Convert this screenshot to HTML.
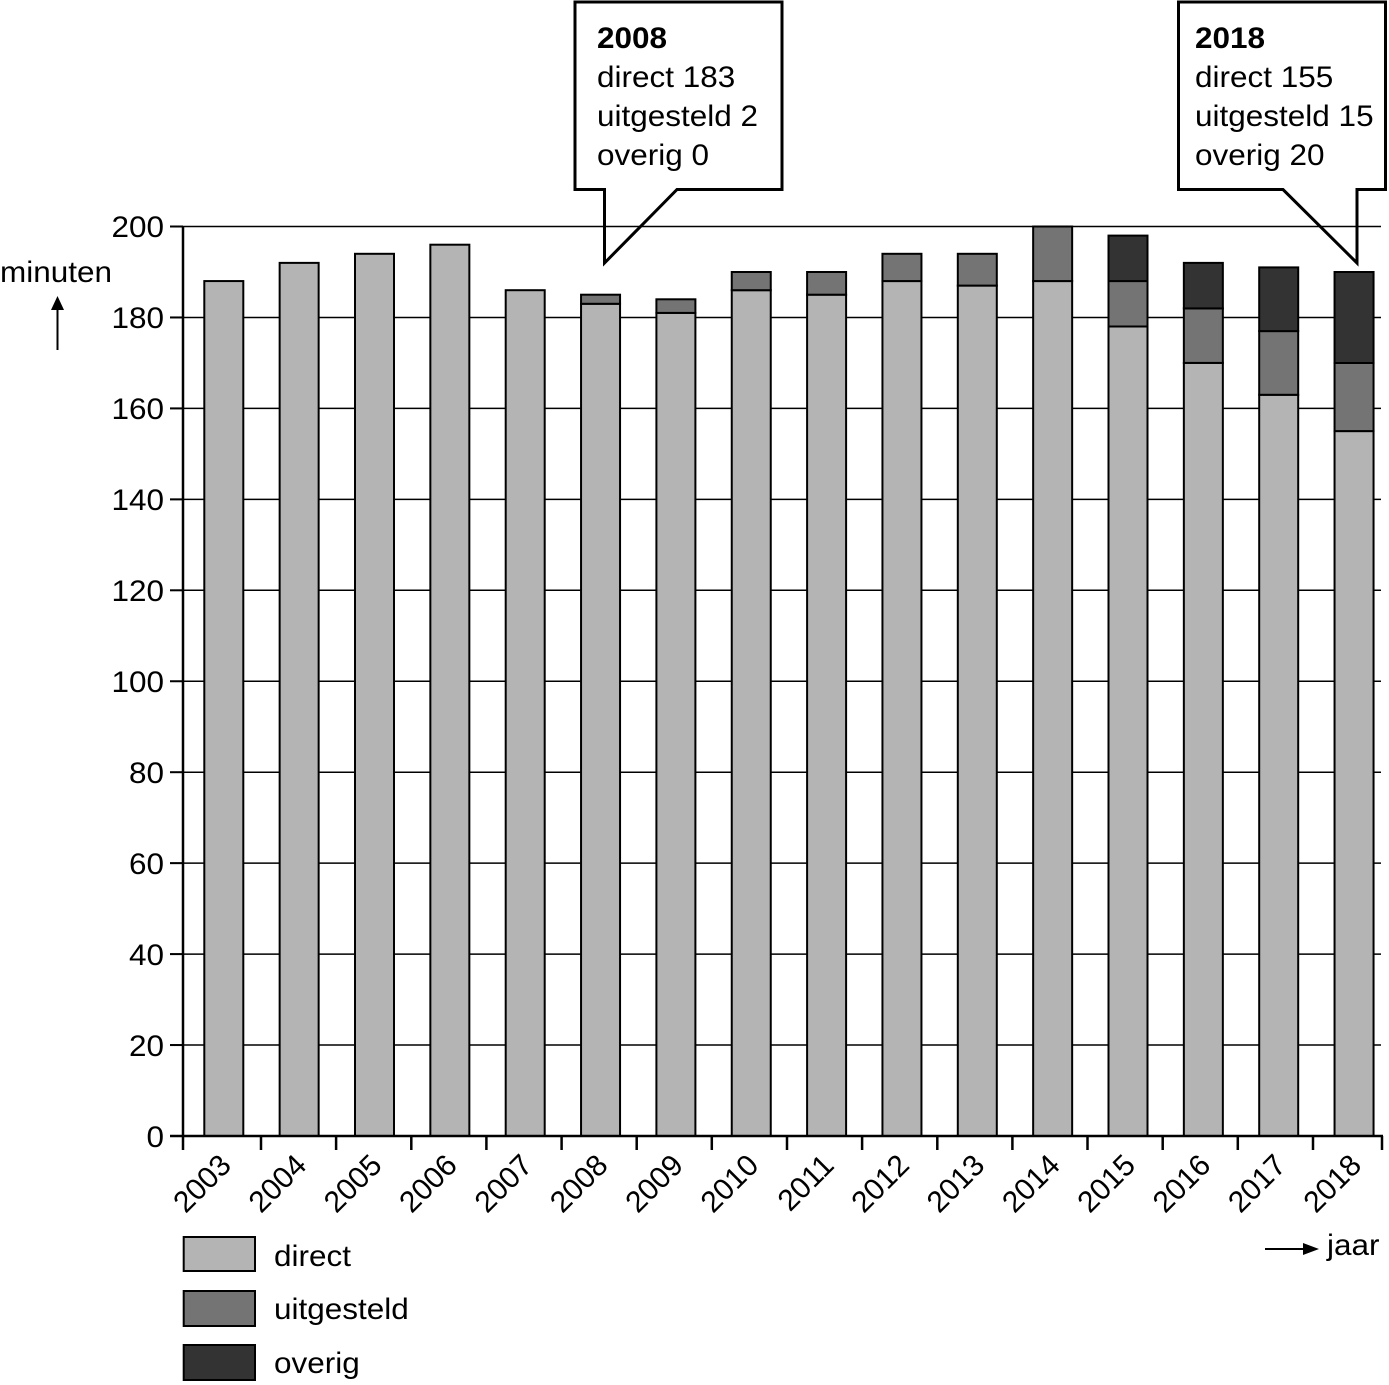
<!DOCTYPE html>
<html>
<head>
<meta charset="utf-8">
<style>
  html, body { margin: 0; padding: 0; background: #ffffff; }
  svg { display: block; }
  text { font-family: "Liberation Sans", Arial, sans-serif; font-size: 30px; fill: #000; }
</style>
</head>
<body>
<svg width="1389" height="1385" viewBox="0 0 1389 1385" xmlns="http://www.w3.org/2000/svg">
  <rect x="0" y="0" width="1389" height="1385" fill="#ffffff"/>

  <!-- gridlines -->
  <g stroke="#000" stroke-width="1.5">
    <line x1="170" y1="226.5" x2="1381" y2="226.5"/>
    <line x1="170" y1="317.45" x2="1381" y2="317.45"/>
    <line x1="170" y1="408.4" x2="1381" y2="408.4"/>
    <line x1="170" y1="499.35" x2="1381" y2="499.35"/>
    <line x1="170" y1="590.3" x2="1381" y2="590.3"/>
    <line x1="170" y1="681.25" x2="1381" y2="681.25"/>
    <line x1="170" y1="772.2" x2="1381" y2="772.2"/>
    <line x1="170" y1="863.15" x2="1381" y2="863.15"/>
    <line x1="170" y1="954.1" x2="1381" y2="954.1"/>
    <line x1="170" y1="1045.05" x2="1381" y2="1045.05"/>
  </g>

  <!-- bars -->
  <g stroke="#000" stroke-width="2">
    <!-- 2003 -->
    <rect x="204.3" y="281.07" width="39" height="854.93" fill="#b4b4b4"/>
    <!-- 2004 -->
    <rect x="279.65" y="262.88" width="39" height="873.12" fill="#b4b4b4"/>
    <!-- 2005 -->
    <rect x="355" y="253.8" width="39" height="882.2" fill="#b4b4b4"/>
    <!-- 2006 -->
    <rect x="430.35" y="244.7" width="39" height="891.3" fill="#b4b4b4"/>
    <!-- 2007 -->
    <rect x="505.7" y="290.2" width="39" height="845.8" fill="#b4b4b4"/>
    <!-- 2008 -->
    <rect x="581.05" y="303.8" width="39" height="832.2" fill="#b4b4b4"/>
    <rect x="581.05" y="294.7" width="39" height="9.1" fill="#747474"/>
    <!-- 2009 -->
    <rect x="656.4" y="312.9" width="39" height="823.1" fill="#b4b4b4"/>
    <rect x="656.4" y="299.3" width="39" height="13.6" fill="#747474"/>
    <!-- 2010 -->
    <rect x="731.75" y="290.2" width="39" height="845.8" fill="#b4b4b4"/>
    <rect x="731.75" y="272" width="39" height="18.2" fill="#747474"/>
    <!-- 2011 -->
    <rect x="807.1" y="294.7" width="39" height="841.3" fill="#b4b4b4"/>
    <rect x="807.1" y="272" width="39" height="22.7" fill="#747474"/>
    <!-- 2012 -->
    <rect x="882.45" y="281.07" width="39" height="854.93" fill="#b4b4b4"/>
    <rect x="882.45" y="253.8" width="39" height="27.27" fill="#747474"/>
    <!-- 2013 -->
    <rect x="957.8" y="285.6" width="39" height="850.4" fill="#b4b4b4"/>
    <rect x="957.8" y="253.8" width="39" height="31.8" fill="#747474"/>
    <!-- 2014 -->
    <rect x="1033.15" y="281.07" width="39" height="854.93" fill="#b4b4b4"/>
    <rect x="1033.15" y="226.5" width="39" height="54.57" fill="#747474"/>
    <!-- 2015 -->
    <rect x="1108.5" y="326.5" width="39" height="809.5" fill="#b4b4b4"/>
    <rect x="1108.5" y="281.07" width="39" height="45.43" fill="#747474"/>
    <rect x="1108.5" y="235.6" width="39" height="45.47" fill="#333333"/>
    <!-- 2016 -->
    <rect x="1183.85" y="362.9" width="39" height="773.1" fill="#b4b4b4"/>
    <rect x="1183.85" y="308.4" width="39" height="54.5" fill="#747474"/>
    <rect x="1183.85" y="262.88" width="39" height="45.52" fill="#333333"/>
    <!-- 2017 -->
    <rect x="1259.2" y="394.8" width="39" height="741.2" fill="#b4b4b4"/>
    <rect x="1259.2" y="331.1" width="39" height="63.7" fill="#747474"/>
    <rect x="1259.2" y="267.4" width="39" height="63.7" fill="#333333"/>
    <!-- 2018 -->
    <rect x="1334.55" y="431.1" width="39" height="704.9" fill="#b4b4b4"/>
    <rect x="1334.55" y="363" width="39" height="68.1" fill="#747474"/>
    <rect x="1334.55" y="272" width="39" height="91" fill="#333333"/>
  </g>

  <!-- axes -->
  <g stroke="#000" stroke-width="2.5" fill="none">
    <line x1="183" y1="226" x2="183" y2="1150"/>
    <line x1="170" y1="1136" x2="1383" y2="1136"/>
  </g>
  <g stroke="#000" stroke-width="2">
    <line x1="170" y1="226.5" x2="183" y2="226.5"/>
    <line x1="170" y1="317.45" x2="183" y2="317.45"/>
    <line x1="170" y1="408.4" x2="183" y2="408.4"/>
    <line x1="170" y1="499.35" x2="183" y2="499.35"/>
    <line x1="170" y1="590.3" x2="183" y2="590.3"/>
    <line x1="170" y1="681.25" x2="183" y2="681.25"/>
    <line x1="170" y1="772.2" x2="183" y2="772.2"/>
    <line x1="170" y1="863.15" x2="183" y2="863.15"/>
    <line x1="170" y1="954.1" x2="183" y2="954.1"/>
    <line x1="170" y1="1045.05" x2="183" y2="1045.05"/>
  </g>
  <!-- x ticks -->
  <g stroke="#000" stroke-width="2.5">
    <line x1="261" y1="1136" x2="261" y2="1150"/>
    <line x1="336.1" y1="1136" x2="336.1" y2="1150"/>
    <line x1="411.3" y1="1136" x2="411.3" y2="1150"/>
    <line x1="486.4" y1="1136" x2="486.4" y2="1150"/>
    <line x1="561.6" y1="1136" x2="561.6" y2="1150"/>
    <line x1="636.7" y1="1136" x2="636.7" y2="1150"/>
    <line x1="711.8" y1="1136" x2="711.8" y2="1150"/>
    <line x1="787" y1="1136" x2="787" y2="1150"/>
    <line x1="862.1" y1="1136" x2="862.1" y2="1150"/>
    <line x1="937.3" y1="1136" x2="937.3" y2="1150"/>
    <line x1="1012.4" y1="1136" x2="1012.4" y2="1150"/>
    <line x1="1087.5" y1="1136" x2="1087.5" y2="1150"/>
    <line x1="1162.7" y1="1136" x2="1162.7" y2="1150"/>
    <line x1="1237.8" y1="1136" x2="1237.8" y2="1150"/>
    <line x1="1313" y1="1136" x2="1313" y2="1150"/>
    <line x1="1382" y1="1136" x2="1382" y2="1150"/>
  </g>

  <!-- y labels -->
  <g text-anchor="end">
    <text transform="translate(164,237) scale(1.05,1)">200</text>
    <text transform="translate(164,328) scale(1.05,1)">180</text>
    <text transform="translate(164,419) scale(1.05,1)">160</text>
    <text transform="translate(164,510) scale(1.05,1)">140</text>
    <text transform="translate(164,601) scale(1.05,1)">120</text>
    <text transform="translate(164,692) scale(1.05,1)">100</text>
    <text transform="translate(164,783) scale(1.05,1)">80</text>
    <text transform="translate(164,874) scale(1.05,1)">60</text>
    <text transform="translate(164,965) scale(1.05,1)">40</text>
    <text transform="translate(164,1056) scale(1.05,1)">20</text>
    <text transform="translate(164,1147) scale(1.05,1)">0</text>
  </g>

  <!-- x labels -->
  <g text-anchor="end">
    <text transform="translate(232.8,1167) rotate(-45)">2003</text>
    <text transform="translate(308.15,1167) rotate(-45)">2004</text>
    <text transform="translate(383.5,1167) rotate(-45)">2005</text>
    <text transform="translate(458.85,1167) rotate(-45)">2006</text>
    <text transform="translate(534.2,1167) rotate(-45)">2007</text>
    <text transform="translate(609.55,1167) rotate(-45)">2008</text>
    <text transform="translate(684.9,1167) rotate(-45)">2009</text>
    <text transform="translate(760.25,1167) rotate(-45)">2010</text>
    <text transform="translate(835.6,1167) rotate(-45)">2011</text>
    <text transform="translate(910.95,1167) rotate(-45)">2012</text>
    <text transform="translate(986.3,1167) rotate(-45)">2013</text>
    <text transform="translate(1061.65,1167) rotate(-45)">2014</text>
    <text transform="translate(1137,1167) rotate(-45)">2015</text>
    <text transform="translate(1212.35,1167) rotate(-45)">2016</text>
    <text transform="translate(1287.7,1167) rotate(-45)">2017</text>
    <text transform="translate(1363.05,1167) rotate(-45)">2018</text>
  </g>

  <!-- y axis title -->
  <text transform="translate(0,282) scale(1.05,1)">minuten</text>
  <line x1="57.5" y1="350" x2="57.5" y2="306" stroke="#000" stroke-width="2"/>
  <polygon points="57.5,296 51,310 64,310" fill="#000"/>

  <!-- x axis title -->
  <line x1="1265" y1="1249" x2="1306" y2="1249" stroke="#000" stroke-width="2"/>
  <polygon points="1319,1249 1303,1243 1303,1255" fill="#000"/>
  <text transform="translate(1327,1255) scale(1.05,1)">jaar</text>

  <!-- callout 2008 -->
  <path d="M575,2 H782 V189.5 H677 L604.5,263 V189.5 H575 Z" fill="none" stroke="#000" stroke-width="3" stroke-linejoin="miter"/>
  <text transform="translate(597,48) scale(1.05,1)" font-weight="bold">2008</text>
  <text transform="translate(597,87) scale(1.05,1)">direct 183</text>
  <text transform="translate(597,126) scale(1.05,1)">uitgesteld 2</text>
  <text transform="translate(597,165) scale(1.05,1)">overig 0</text>

  <!-- callout 2018 -->
  <path d="M1178.5,2 H1385.5 V189.5 H1357 V263 L1283,189.5 H1178.5 Z" fill="none" stroke="#000" stroke-width="3" stroke-linejoin="miter"/>
  <text transform="translate(1195,48) scale(1.05,1)" font-weight="bold">2018</text>
  <text transform="translate(1195,87) scale(1.05,1)">direct 155</text>
  <text transform="translate(1195,126) scale(1.05,1)">uitgesteld 15</text>
  <text transform="translate(1195,165) scale(1.05,1)">overig 20</text>

  <!-- legend -->
  <g stroke="#000" stroke-width="2">
    <rect x="183.7" y="1237" width="71.3" height="34" fill="#b4b4b4"/>
    <rect x="183.7" y="1291" width="71.3" height="35" fill="#747474"/>
    <rect x="183.7" y="1345" width="71.3" height="35" fill="#333333"/>
  </g>
  <text transform="translate(274,1266) scale(1.05,1)">direct</text>
  <text transform="translate(274,1319) scale(1.05,1)">uitgesteld</text>
  <text transform="translate(274,1373) scale(1.05,1)">overig</text>
</svg>
</body>
</html>
